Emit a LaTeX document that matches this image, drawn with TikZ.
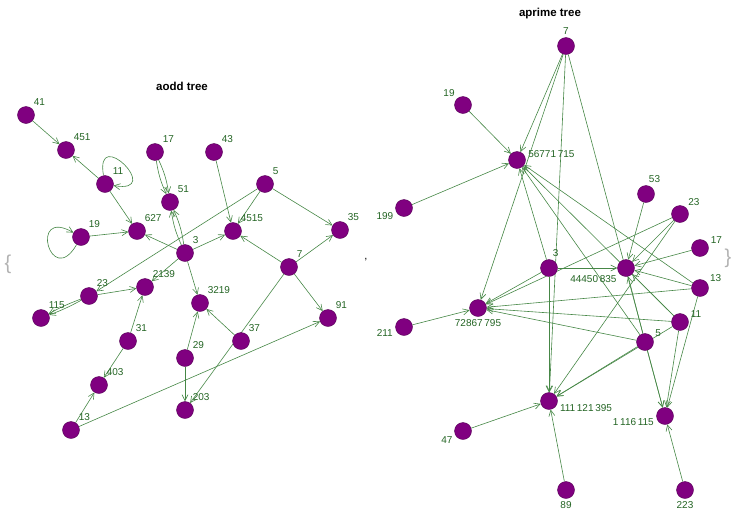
\documentclass[tikz,border=0pt]{standalone}
\usepackage{fontspec}
\setmainfont{Liberation Sans}
\usetikzlibrary{arrows.meta,backgrounds}

\definecolor{vtxfill}{RGB}{128,0,128}
\definecolor{vtxline}{RGB}{85,0,85}
\definecolor{edgegreen}{RGB}{70,135,70}
\definecolor{lblgreen}{RGB}{35,100,35}

\tikzset{
  vtx/.style={draw=vtxline, fill=vtxfill, circle, inner sep=0pt, minimum size=17pt},
  lbl/.style={text=lblgreen, font=\fontsize{10}{12}\selectfont, inner sep=1pt, label distance=1.5pt},
  link/.style={draw=edgegreen, line width=0.6pt, -{Straight Barb[length=6pt,width=6pt]}},
  title/.style={font=\fontsize{11.5}{13}\selectfont\bfseries}
}

\begin{document}
\begin{tikzpicture}[x=1pt,y=1pt]
  \useasboundingbox (0,0) rectangle (742,-528);

  % Titles and list punctuation
  \node[title] (ttlodd) at (182,-86) {aodd tree};
  \node[title] (ttlprime) at (550,-14) {aprime tree};
  \node[text=gray!60, font=\fontsize{20}{20}\selectfont] (lbrace) at (8,-264) {\{};
  \node[text=gray!60, font=\fontsize{20}{20}\selectfont] (rbrace) at (728,-258) {\}};
  \node[font=\fontsize{11}{12}\selectfont] (comma) at (366,-260) {,};

  % Vertices of the aodd tree
  \foreach \n/\x/\y in {41/26/115, 451/66/150, 11/105/184, 17/155/152, 51/170/202,
      43/214/152, 5/265/184, 627/137/231, 19/81/237, 4515/233/231, 35/340/230,
      3/185/253, 7/289/267, 2139/145/287, 23/89/296, 115/41/318, 3219/200/303,
      91/328/318, 37/241/341, 31/128/341, 29/185/358, 403/99/385, 203/185/410,
      13/71/430}
    \node[vtx, label={[lbl]50:\n}] (a\n) at (\x,-\y) {};

  % Vertices of the aprime tree
  \foreach \n/\x/\y/\a/\t in {7/566/46/90/7, 19/463/105/135/19,
      56771715/517/160/8/56771\,715, 199/404/208/200/199, 53/646/194/80/53,
      23/680/214/45/23, 17/700/248/20/17, 3/549/268/75/3,
      44450835/626/268/215/44450\,835, 13/700/288/30/13,
      72867795/478/308/270/72867\,795, 211/404/327/190/211, 11/680/322/20/11,
      5/645/342/25/5, 111121395/549/401/-15/111\,121\,395,
      1116115/665/416/190/1\,116\,115, 47/463/431/205/47, 89/566/490/270/89,
      223/685/490/270/223}
    \node[vtx, label={[lbl]\a:\t}] (p\n) at (\x,-\y) {};

  \begin{scope}[on background layer]
    % Edges of the aodd tree
    \foreach \s/\t in {41/451, 11/451, 11/627, 19/627, 3/627, 3/4515, 43/4515,
        5/4515, 7/4515, 5/35, 7/35, 5/23, 3/2139, 23/2139, 31/2139, 3/3219,
        29/3219, 37/3219, 7/91, 13/91, 7/203, 29/203, 13/403, 31/403}
      \draw[link] (a\s) -- (a\t);
    \draw[link] (a17) to[bend left=8] (a51);
    \draw[link] (a17) to[bend right=8] (a51);
    \draw[link] (a3) to[bend left=8] (a51);
    \draw[link] (a3) to[bend right=8] (a51);
    \draw[link] (a23) to[bend left=4] (a115);
    \draw[link] (a23) to[bend right=4] (a115);
    \draw[link] (a11) to[out=100, in=-10, min distance=52pt] (a11);
    \draw[link] (a19) to[out=240, in=150, min distance=52pt] (a19);

    % Edges of the aprime tree
    \foreach \s/\t in {3/56771715, 5/56771715, 7/56771715, 11/56771715,
        13/56771715, 19/56771715, 199/56771715,
        3/44450835, 5/44450835, 11/44450835, 13/44450835, 17/44450835,
        23/44450835, 53/44450835,
        3/72867795, 5/72867795, 7/72867795, 11/72867795, 13/72867795,
        23/72867795, 211/72867795,
        3/111121395, 5/111121395, 7/111121395, 11/111121395, 23/111121395,
        47/111121395, 89/111121395,
        5/1116115, 7/1116115, 11/1116115, 13/1116115, 223/1116115}
      \draw[link] (p\s) -- (p\t);
  \end{scope}
\end{tikzpicture}
\end{document}
